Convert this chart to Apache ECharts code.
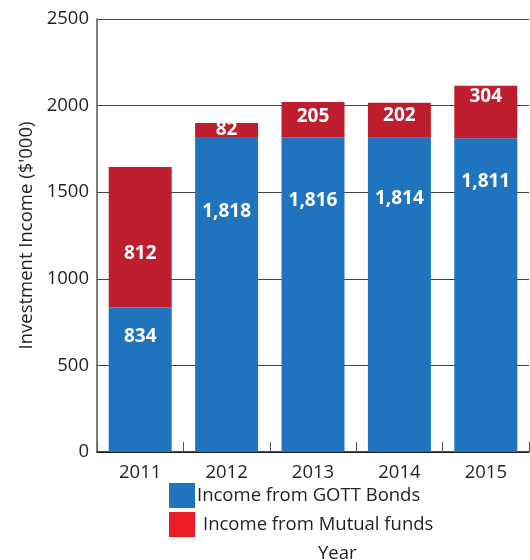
<!DOCTYPE html>
<html>
<head>
<meta charset="utf-8">
<script src="https://cdn.jsdelivr.net/npm/echarts@6/dist/echarts.min.js"></script>
<style>
  html, body { margin: 0; padding: 0; background: #fff; }
  #chart { width: 530px; height: 560px; }
</style>
</head>
<body>
<div id="chart"></div>
<script>
// Investment income by year, stacked by source
const years = ['2011', '2012', '2013', '2014', '2015'];
const gottBonds = [834, 1818, 1816, 1814, 1811];
const mutualFunds = [812, 82, 205, 202, 304];
const yTicks = [0, 500, 1000, 1500, 2000, 2500];

// Vertical nudges (px) for the value labels inside each segment
const bondLabelShift = [-43, -83, -94, -96, -114];
const fundLabelShift = [16, 0, -3, -5, -15];

const FONT = '"Open Sans", "Noto Sans", sans-serif';
const TEXT = '#231F20';
const BLUE = '#1F74BD';
const RED = '#BE1E2D';
const RED_KEY = '#ED1C24';

function withLabels(values, shifts) {
  return values.map((v, i) => ({
    value: v,
    label: { offset: [0, shifts[i]] }
  }));
}

const labelStyle = {
  show: true,
  position: 'inside',
  color: '#fff',
  fontFamily: FONT,
  fontWeight: 'bold',
  fontSize: 19,
  formatter: p => p.value.toLocaleString('en-US')
};

const chart = echarts.init(document.getElementById('chart'), null, { renderer: 'canvas' });
chart.setOption({
  animation: false,
  backgroundColor: '#fff',
  grid: { left: 97, right: 1, top: 19, bottom: 108, containLabel: false },
  legend: {
    orient: 'vertical',
    left: 169,
    top: 483,
    padding: 0,
    itemWidth: 26,
    itemHeight: 25,
    itemGap: 4,
    icon: 'rect',
    textStyle: { fontFamily: FONT, fontSize: 18.5, color: TEXT, padding: [0, 0, 0, -3] },
    data: [
      { name: 'Income from GOTT Bonds', itemStyle: { color: BLUE } },
      { name: 'Income from Mutual funds', itemStyle: { color: RED_KEY }, textStyle: { padding: [0, 0, 0, 3] } }
    ]
  },
  graphic: [{
    type: 'text',
    left: 318,
    top: 544,
    style: { text: 'Year', fontFamily: FONT, fontSize: 18.5, fill: TEXT }
  }],
  xAxis: {
    type: 'category',
    data: years,
    axisLine: { lineStyle: { color: '#111', width: 1.5 } },
    axisTick: { show: true, inside: true, length: 10, alignWithLabel: false, lineStyle: { color: '#555' } },
    axisLabel: { fontFamily: FONT, fontSize: 18.5, color: TEXT, margin: 11 }
  },
  yAxis: {
    type: 'value',
    min: 0,
    max: 2500,
    interval: 500,
    name: "Investment Income ($'000)",
    nameLocation: 'middle',
    nameGap: 61,
    nameTextStyle: { fontFamily: FONT, fontSize: 18.5, color: TEXT },
    axisLine: { show: true, lineStyle: { color: '#555', width: 1.5 } },
    axisTick: { show: false },
    axisLabel: {
      fontFamily: FONT, fontSize: 18.5, color: TEXT, margin: 8,
      formatter: v => yTicks.includes(v) ? String(v) : ''
    },
    splitLine: { show: true, lineStyle: { color: '#444', width: 1.2 } }
  },
  series: [
    {
      name: 'Income from GOTT Bonds',
      type: 'bar',
      stack: 'income',
      barWidth: 63,
      itemStyle: { color: BLUE },
      label: labelStyle,
      data: withLabels(gottBonds, bondLabelShift)
    },
    {
      name: 'Income from Mutual funds',
      type: 'bar',
      stack: 'income',
      barWidth: 63,
      itemStyle: { color: RED },
      label: labelStyle,
      data: withLabels(mutualFunds, fundLabelShift)
    }
  ]
});
</script>
</body>
</html>
